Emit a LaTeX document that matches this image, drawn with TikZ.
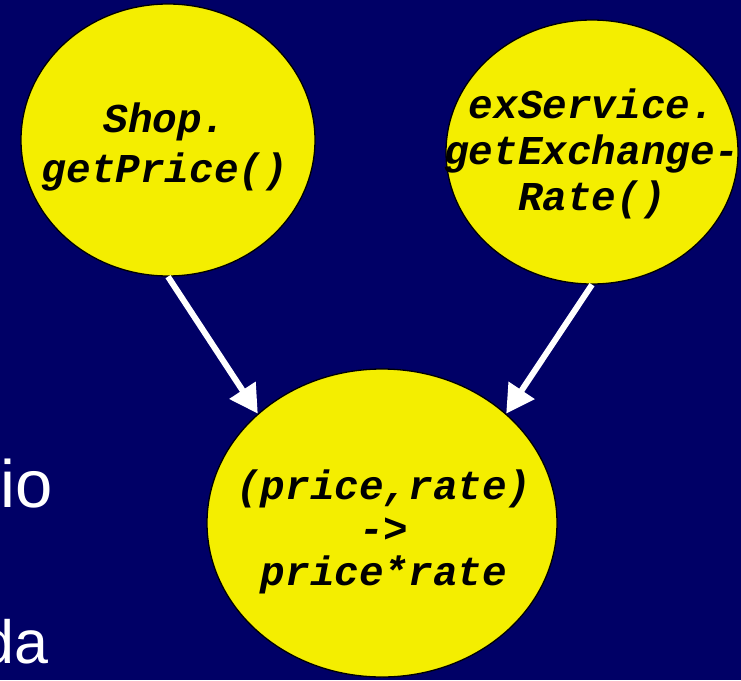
\documentclass[tikz,border=0pt]{standalone}
\usepackage{fontspec}
\newfontfamily\codefont{Liberation Mono}
\newfontfamily\slidefont{Liberation Sans}
\usepackage{tikz}
\usetikzlibrary{shapes.geometric,arrows.meta,positioning}
\definecolor{slidebg}{RGB}{0,0,102}
\definecolor{callyellow}{RGB}{244,238,0}

\begin{document}
\begin{tikzpicture}[x=1pt,y=-1pt,
    blob/.style={ellipse, draw=black, line width=1.3pt, fill=callyellow, inner sep=0pt},
    code/.style={font=\codefont\bfseries\itshape\fontsize{41}{#1}\selectfont, align=center, text=black, inner sep=0pt},
    flow/.style={-{Triangle[length=28pt,width=30pt]}, line width=6pt, white}]
    % Slide background
    \fill[slidebg] (0,0) rectangle (741,680);
    \useasboundingbox (0,0) rectangle (741,680);

    % Bullet text at the left edge
    \node[font=\slidefont\fontsize{67}{80}\selectfont, text=white, anchor=base east, inner sep=0pt] (ioText) at (53,507) {io};
    \node[font=\slidefont\fontsize{61}{73}\selectfont, text=white, anchor=base east, inner sep=0pt] (daText) at (49,663) {da};

    % Calls
    \node[blob, minimum width=294pt, minimum height=272pt] (shop) at (168,140) {};
    \node[blob, minimum width=292pt, minimum height=264pt] (exch) at (592,152) {};
    \node[blob, minimum width=350pt, minimum height=308pt] (combine) at (382,523) {};

    \node[code=50] (shopText) at (165,147) {Shop.\\getPrice()};
    \node[code=46] (exchText) at (592,154) {exService.\\getExchange-\\Rate()};
    \node[code=43] (combineText) at (384,532) {(price,rate)\\->\\price*rate};

    % Results flowing into the combination
    \draw[flow] (shop.south) -- (combine.north west);
    \draw[flow] (exch.south) -- (combine.north east);
\end{tikzpicture}
\end{document}
